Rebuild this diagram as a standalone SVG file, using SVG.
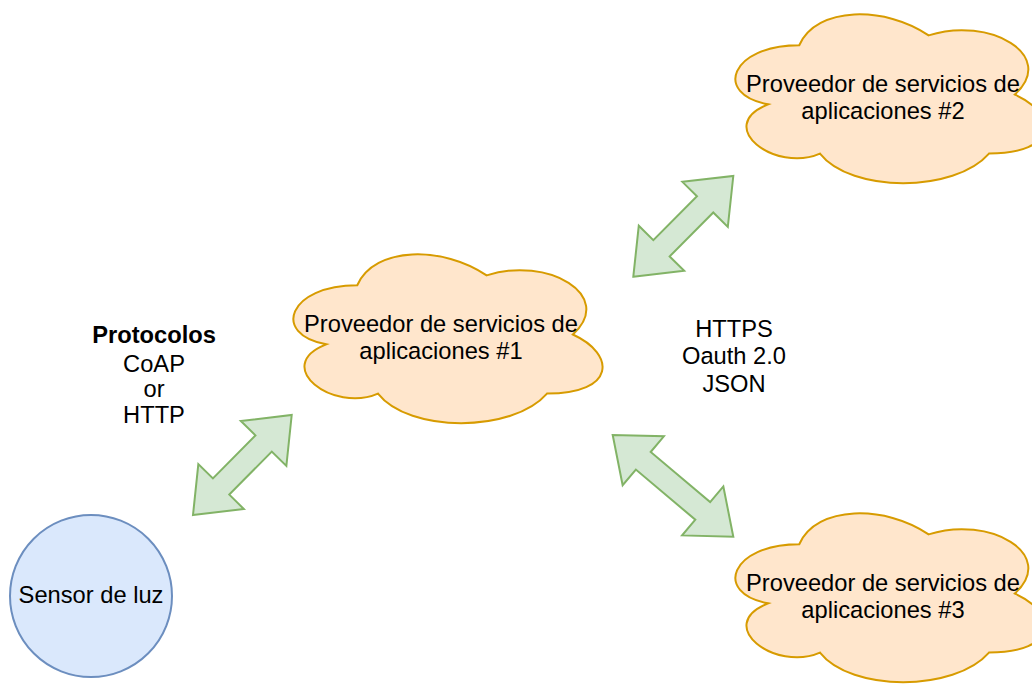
<svg xmlns="http://www.w3.org/2000/svg" xmlns:xlink="http://www.w3.org/1999/xlink" width="1032" height="686" viewBox="0 0 1032 686">
<style>
.cloud{fill:#ffe6cc;stroke:#d79b00;stroke-width:2}
.sensor{fill:#dae8fc;stroke:#6c8ebf;stroke-width:2}
.arrow{fill:#d5e8d4;stroke:#82b366;stroke-width:2;stroke-linejoin:miter}
.t{font-family:"Liberation Sans",Arial,Helvetica,sans-serif;font-size:23.7px;fill:#000;text-anchor:middle}
.b{font-weight:bold}
</style>
<defs>
<path id="cloudShape" d="M 86.25 49.25 C 17.25 49.25 0 98.5 55.2 108.35 C 0 130.02 62.1 177.3 106.95 157.6 C 138 197 241.5 197 276 157.6 C 345 157.6 345 118.2 301.875 98.5 C 345 59.1 276 19.7 215.625 39.4 C 172.5 9.85 103.5 9.85 86.25 49.25 Z"/>
</defs>
<rect width="1032" height="686" fill="#ffffff"/>
<g id="connectors">
<polygon class="arrow" points="193,515 243.87,509.01 229.28,494.61 271.78,451.55 286.37,465.95 291.7,415 240.83,420.99 255.42,435.39 212.92,478.45 198.33,464.05"/>
<polygon class="arrow" points="633.3,276.7 684.2,270.86 669.65,256.41 713.27,212.49 727.82,226.94 733.3,176 682.4,181.84 696.95,196.29 653.33,240.21 638.78,225.76"/>
<polygon class="arrow" points="612.7,435 622.65,485.24 635.86,469.57 695.32,519.71 682.11,535.38 733.3,536.7 723.35,486.46 710.14,502.13 650.68,451.99 663.89,436.32"/>
</g>
<g id="cloud1">
<use xlink:href="#cloudShape" href="#cloudShape" class="cloud" transform="translate(271,236)"/>
<text class="t" x="441" y="331.7">Proveedor de servicios de</text>
<text class="t" x="441" y="359">aplicaciones #1</text>
</g>
<g id="cloud2">
<use xlink:href="#cloudShape" href="#cloudShape" class="cloud" transform="translate(713,-4)"/>
<text class="t" x="883" y="91.7">Proveedor de servicios de</text>
<text class="t" x="883" y="119">aplicaciones #2</text>
</g>
<g id="cloud3">
<use xlink:href="#cloudShape" href="#cloudShape" class="cloud" transform="translate(713,495)"/>
<text class="t" x="883" y="590.7">Proveedor de servicios de</text>
<text class="t" x="883" y="618.3">aplicaciones #3</text>
</g>
<g id="sensor">
<circle class="sensor" cx="91" cy="596" r="81"/>
<text class="t" x="91" y="603.3">Sensor de luz</text>
</g>
<g id="label-protocolos">
<text class="t b" x="154" y="343.3">Protocolos</text>
<text class="t" x="154" y="371.7">CoAP</text>
<text class="t" x="154" y="397.3">or</text>
<text class="t" x="154" y="423.3">HTTP</text>
</g>
<g id="label-https">
<text class="t" x="734" y="337.3">HTTPS</text>
<text class="t" x="734" y="364">Oauth 2.0</text>
<text class="t" x="734" y="391.7">JSON</text>
</g>
</svg>
